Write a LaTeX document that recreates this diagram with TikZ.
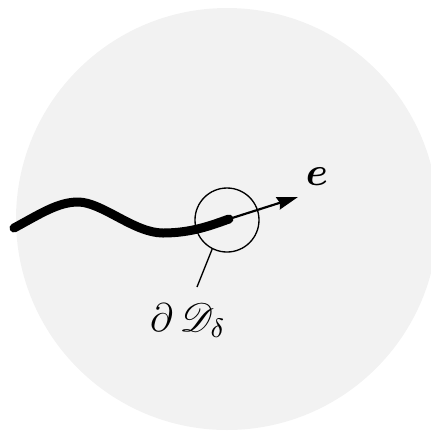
\documentclass[tikz,border=0pt]{standalone}
\usepackage{amsmath}
\usepackage{bm}
\usepackage{mathrsfs}
\usetikzlibrary{arrows.meta}
\begin{document}
\begin{tikzpicture}[x=0.3pt, y=-0.3pt,
        region/.style={fill=black!5},
        crack/.style={line width=2.7pt, line cap=round},
        ball/.style={draw, circle, line width=0.4pt, minimum size=19.2pt, inner sep=0pt},
        dir/.style={line width=0.65pt, -{Stealth[length=6.3pt, width=3.8pt, inset=0.6pt]}},
        lbl/.style={inner sep=0pt, font=\large}
      ]
      \useasboundingbox (0,0) rectangle (431,433);

      % Domain
      \fill[region] (227,219) circle [radius=211];

      % Crack
      \coordinate (start) at (14,228);
      \coordinate (tip) at (229,219);
      \draw[crack] (start) .. controls (40,214) and (58,202) .. (78,202)
        .. controls (102,202) and (134,233) .. (163,233)
        .. controls (192,233) and (212,225) .. (tip);

      % Small disk round the tip
      \node[ball] (disk) at (227,220) {};

      % Direction e
      \coordinate (eend) at (298,197);
      \draw[dir] (tip) -- (eend);
      \node[lbl] (e) at (317,177) {$\bm{e}$};

      % Boundary label
      \node[lbl] (bd) at (188,320) {$\partial\,\mathscr{D}_\delta$};
      \coordinate (lead) at (197,287);
      \draw[line width=0.4pt] (disk.243) -- (lead);

    \end{tikzpicture}
\end{document}
